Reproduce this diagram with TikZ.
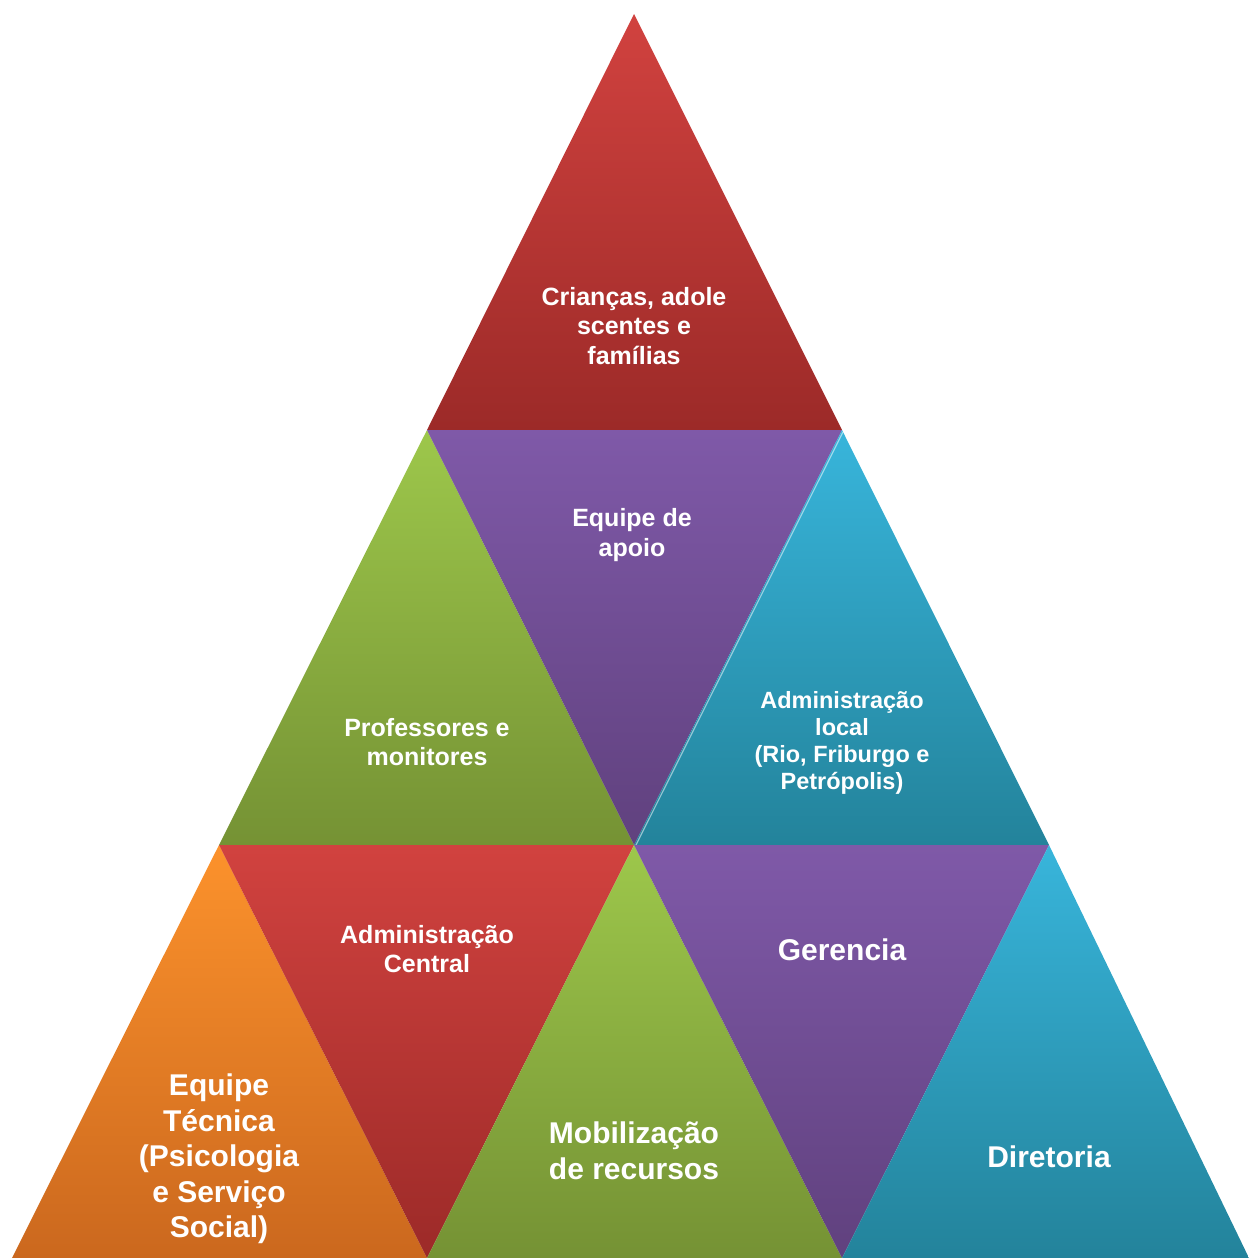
\documentclass[tikz,border=0pt]{standalone}
\usepackage{fontspec}
\setmainfont{Liberation Sans}

\definecolor{redtop}{RGB}{209,66,63}
\definecolor{redbot}{RGB}{156,42,40}
\definecolor{purtop}{RGB}{127,89,168}
\definecolor{purbot}{RGB}{96,65,126}
\definecolor{grntop}{RGB}{157,199,75}
\definecolor{grnbot}{RGB}{117,146,52}
\definecolor{blutop}{RGB}{56,181,219}
\definecolor{blubot}{RGB}{35,131,155}
\definecolor{orgtop}{RGB}{252,146,44}
\definecolor{orgbot}{RGB}{203,104,30}

\begin{document}
\begin{tikzpicture}[x=1pt,y=-1pt,
    redtri/.style={top color=redtop, bottom color=redbot},
    purtri/.style={top color=purtop, bottom color=purbot},
    grntri/.style={top color=grntop, bottom color=grnbot},
    blutri/.style={top color=blutop, bottom color=blubot},
    orgtri/.style={top color=orgtop, bottom color=orgbot},
    txt/.style={text=white, align=center, inner sep=0pt, font=\bfseries\fontsize{25}{29.5}\selectfont},
    smalltxt/.style={txt, font=\bfseries\fontsize{23.5}{27}\selectfont},
    bigtxt/.style={txt, font=\bfseries\fontsize{30}{35.5}\selectfont}]

\useasboundingbox (0,0) rectangle (1249,1258);

% Spitze
\shade[redtri] (427,430) -- (842,430) -- (634,14) -- cycle;

% zweite Reihe
\shade[grntri] (219,845) -- (634,845) -- (427,430) -- cycle;
\shade[purtri] (427,430) -- (842,430) -- (634,845) -- cycle;
\shade[blutri] (634,845) -- (1049,845) -- (842,430) -- cycle;
\draw[white, opacity=0.5, line width=1.2] (636,845) -- (843,432);

% dritte Reihe
\shade[orgtri] (12,1258) -- (427,1258) -- (219,845) -- cycle;
\shade[redtri] (219,845) -- (634,845) -- (427,1258) -- cycle;
\shade[grntri] (427,1258) -- (842,1258) -- (634,845) -- cycle;
\shade[purtri] (634,845) -- (1049,845) -- (842,1258) -- cycle;
\shade[blutri] (842,1258) -- (1249,1258) -- (1049,845) -- cycle;

% Beschriftungen
\node[txt] (kids) at (634,326) {Crianças, adole\\scentes e\\famílias};
\node[txt] (apoio) at (632,535) {Equipe de\\apoio};
\node[txt] (prof) at (427,742) {Professores e\\monitores};
\node[smalltxt] (local) at (842,743) {Administração\\local\\(Rio, Friburgo e\\Petrópolis)};
\node[txt] (central) at (427,949) {Administração\\Central};
\node[bigtxt] (tecnica) at (219,1159) {Equipe\\Técnica\\(Psicologia\\e Serviço\\Social)};
\node[bigtxt] (mobil) at (634,1151) {Mobilização\\de recursos};
\node[bigtxt] (ger) at (842,950) {Gerencia};
\node[bigtxt] (dir) at (1049,1157) {Diretoria};

\end{tikzpicture}
\end{document}
